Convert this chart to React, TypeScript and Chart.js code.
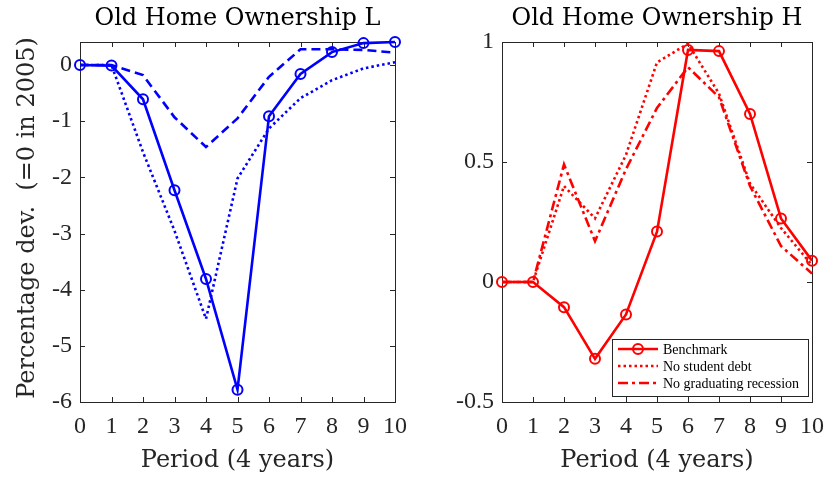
import React, { useEffect, useRef } from "react";
import { Chart, registerables } from "chart.js";

Chart.register(...registerables);

const periods = [0, 1, 2, 3, 4, 5, 6, 7, 8, 9, 10];

const lowBenchmark = [0, -0.01, -0.61, -2.23, -3.81, -5.78, -0.91, -0.16, 0.23, 0.39, 0.41];
const lowNoStudentDebt = [0, 0, -1.55, -2.95, -4.52, -2.02, -1.13, -0.59, -0.27, -0.06, 0.05];
const lowNoRecession = [0, 0, -0.18, -0.93, -1.46, -0.95, -0.21, 0.28, 0.28, 0.27, 0.22];

const highBenchmark = [0, 0, -0.105, -0.32, -0.135, 0.21, 0.967, 0.962, 0.7, 0.265, 0.089];
const highNoStudentDebt = [0, 0, 0.4, 0.265, 0.53, 0.915, 0.993, 0.785, 0.41, 0.225, 0.07];
const highNoRecession = [0, 0, 0.49, 0.17, 0.47, 0.725, 0.895, 0.77, 0.4, 0.15, 0.035];

const lowYTicks = [-6, -5, -4, -3, -2, -1, 0];
const highYTicks = [-0.5, 0, 0.5, 1];
const xTicks = [0, 1, 2, 3, 4, 5, 6, 7, 8, 9, 10];

const seriesNames = ["Benchmark", "No student debt", "No graduating recession"];

const TICKFONT = "'Liberation Serif', 'DejaVu Serif', serif";
const LABELFONT = "'DejaVu Serif', 'Liberation Serif', serif";
const AXIS = "#262626";

function fmt(v: number) {
  const s = String(Math.abs(v));
  return v < 0 ? "-" + s : s;
}

function makeDatasets(color: string, a: number[], b: number[], c: number[], dashC: number[]) {
  return [
    {
      label: seriesNames[0],
      data: periods.map((x, i) => ({ x, y: a[i] })),
      borderColor: color,
      borderWidth: 2.6,
      pointRadius: 5,
      pointBorderWidth: 2,
      pointBackgroundColor: "rgba(0,0,0,0)",
      pointBorderColor: color,
      clip: false as any,
      order: 1,
    },
    {
      label: seriesNames[1],
      data: periods.map((x, i) => ({ x, y: b[i] })),
      borderColor: color,
      borderWidth: 2.6,
      borderDash: [2.5, 3],
      pointRadius: 0,
      clip: false as any,
      order: 2,
    },
    {
      label: seriesNames[2],
      data: periods.map((x, i) => ({ x, y: c[i] })),
      borderColor: color,
      borderWidth: 2.6,
      borderDash: dashC,
      pointRadius: 0,
      clip: false as any,
      order: 3,
    },
  ];
}

function framePlugin(title: string, yTitle: string | null, legend: boolean, color: string) {
  return {
    id: "frame",
    beforeDatasetsDraw(chart: any) {
      const ctx = chart.ctx;
      const { left, right, top, bottom } = chart.chartArea;
      const xs = chart.scales.x;
      const ys = chart.scales.y;
      ctx.save();
      ctx.strokeStyle = AXIS;
      ctx.lineWidth = 1;
      ctx.strokeRect(left + 0.5, top + 0.5, right - left, bottom - top);
      const tl = 5;
      ctx.beginPath();
      xTicks.forEach((v) => {
        const px = Math.round(xs.getPixelForValue(v)) + 0.5;
        ctx.moveTo(px, bottom);
        ctx.lineTo(px, bottom - tl);
        ctx.moveTo(px, top);
        ctx.lineTo(px, top + tl);
      });
      ys.ticks.forEach((t: any) => {
        const py = Math.round(ys.getPixelForValue(t.value)) + 0.5;
        ctx.moveTo(left, py);
        ctx.lineTo(left + tl, py);
        ctx.moveTo(right, py);
        ctx.lineTo(right - tl, py);
      });
      ctx.stroke();
      ctx.restore();
    },
    afterDraw(chart: any) {
      const ctx = chart.ctx;
      const { left, right, top, bottom } = chart.chartArea;
      ctx.save();
      ctx.fillStyle = "#000";
      ctx.textAlign = "center";
      ctx.textBaseline = "alphabetic";
      ctx.font = `24px ${LABELFONT}`;
      ctx.fillText(title, (left + right) / 2, 25);
      ctx.fillStyle = AXIS;
      ctx.fillText("Period (4 years)", (left + right) / 2, 467);
      if (yTitle) {
        ctx.save();
        ctx.translate(34, (top + bottom) / 2 - 4);
        ctx.rotate(-Math.PI / 2);
        ctx.fillText(yTitle, 0, 0);
        ctx.restore();
      }
      if (legend) {
        const bx = right - 200;
        const by = bottom - 63;
        const bw = 196;
        const bh = 57;
        ctx.fillStyle = "#fff";
        ctx.fillRect(bx, by, bw, bh);
        ctx.strokeStyle = AXIS;
        ctx.lineWidth = 1;
        ctx.strokeRect(bx + 0.5, by + 0.5, bw, bh);
        const dashes = [[], [2.5, 3], [10, 4, 3, 4]];
        ctx.font = `14px ${TICKFONT}`;
        ctx.textAlign = "left";
        ctx.textBaseline = "middle";
        seriesNames.forEach((n, i) => {
          const y = by + 10 + i * 17;
          ctx.strokeStyle = color;
          ctx.lineWidth = 2.6;
          ctx.setLineDash(dashes[i]);
          ctx.beginPath();
          ctx.moveTo(bx + 6, y);
          ctx.lineTo(bx + 46, y);
          ctx.stroke();
          ctx.setLineDash([]);
          if (i === 0) {
            ctx.lineWidth = 2;
            ctx.beginPath();
            ctx.arc(bx + 26, y, 5, 0, Math.PI * 2);
            ctx.stroke();
          }
          ctx.fillStyle = "#000";
          ctx.fillText(n, bx + 51, y + 1);
        });
      }
      ctx.restore();
    },
  };
}

function Panel(props: {
  left: number;
  padLeft: number;
  padRight: number;
  yMin: number;
  yMax: number;
  yTicks: number[];
  color: string;
  a: number[];
  b: number[];
  c: number[];
  dashC: number[];
  title: string;
  yTitle: string | null;
  legend: boolean;
}) {
  const ref = useRef<HTMLCanvasElement>(null);
  useEffect(() => {
    if (!ref.current) return;
    const chart = new Chart(ref.current, {
      type: "line",
      data: { datasets: makeDatasets(props.color, props.a, props.b, props.c, props.dashC) as any },
      options: {
        animation: false,
        responsive: false,
        maintainAspectRatio: false,
        layout: { padding: { left: 0, right: props.padRight, top: 42, bottom: 0 } },
        plugins: { legend: { display: false }, tooltip: { enabled: false }, title: { display: false } },
        scales: {
          x: {
            type: "linear",
            min: 0,
            max: 10,
            grid: { display: false, drawTicks: false },
            border: { display: false },
            ticks: {
              stepSize: 1,
              padding: 10,
              color: AXIS,
              font: { family: TICKFONT, size: 24 },
              maxRotation: 0,
              autoSkip: false,
              callback: (v: any) => fmt(Number(v)),
            },
            afterBuildTicks: (s: any) => {
              s.ticks = xTicks.map((v) => ({ value: v }));
            },
            afterFit: (s: any) => {
              s.height = 78;
            },
          },
          y: {
            type: "linear",
            min: props.yMin,
            max: props.yMax,
            grid: { display: false, drawTicks: false },
            border: { display: false },
            ticks: {
              padding: 8,
              color: AXIS,
              autoSkip: false,
              font: { family: TICKFONT, size: 24 },
              callback: (v: any) => fmt(Number(v)),
            },
            afterBuildTicks: (s: any) => {
              s.ticks = props.yTicks.map((v) => ({ value: v }));
            },
            afterFit: (s: any) => {
              s.width = props.padLeft;
            },
          },
        },
      },
      plugins: [framePlugin(props.title, props.yTitle, props.legend, props.color)],
    });
    return () => chart.destroy();
  }, []);
  return (
    <canvas
      ref={ref}
      width={417}
      height={480}
      style={{ position: "absolute", left: props.left, top: 0, width: 417, height: 480 }}
    />
  );
}

export default function App() {
  return (
    <div style={{ position: "fixed", left: 0, top: 0, width: 834, height: 480, background: "#fff" }}>
      <Panel
        left={0}
        padLeft={80}
        padRight={22}
        yMin={-6}
        yMax={0.41}
        yTicks={lowYTicks}
        color="#0000ff"
        a={lowBenchmark}
        b={lowNoStudentDebt}
        c={lowNoRecession}
        dashC={[9, 5]}
        title="Old Home Ownership L"
        yTitle="Percentage dev.  (=0 in 2005)"
        legend={false}
      />
      <Panel
        left={417}
        padLeft={85}
        padRight={17}
        yMin={-0.5}
        yMax={1}
        yTicks={highYTicks}
        color="#ff0000"
        a={highBenchmark}
        b={highNoStudentDebt}
        c={highNoRecession}
        dashC={[10, 4, 3, 4]}
        title="Old Home Ownership H"
        yTitle={null}
        legend={true}
      />
    </div>
  );
}
